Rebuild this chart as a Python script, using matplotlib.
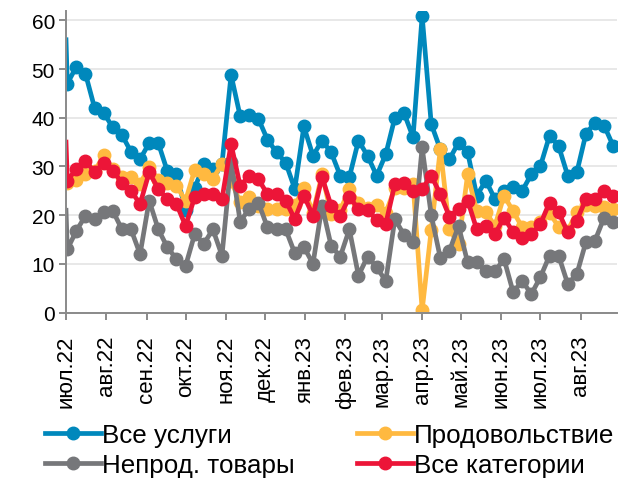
import numpy as np
import pandas as pd
import matplotlib.pyplot as plt
import matplotlib.dates as mdates

plt.rcParams['font.family'] = ['Liberation Sans', 'DejaVu Sans']

# first value sits on the axis start (no marker), then weekly points
dates = [pd.Timestamp('2022-07-01')] + list(pd.date_range('2022-07-02', periods=61, freq='7D'))

services = [56, 47, 50.5, 49, 42, 41, 38, 36.5, 33, 31.5, 34.8, 34.8, 29, 28.4, 21, 25.5,
            30.5, 29.5, 30.5, 48.8, 40.3, 40.5, 39.8, 35.5, 32.9, 30.8, 25.4, 38.2, 32.2,
            35.3, 32.9, 28.1, 27.8, 35.3, 32.2, 28.1, 32.5, 40, 41, 36, 60.9, 38.7, 33.5,
            31.5, 34.9, 32.9, 24, 27.1, 23.3, 25, 25.7, 25, 28.4, 30.1, 36.3, 34.2, 28.1,
            28.8, 36.7, 39, 38.4, 34.2]
food = [26, 26.7, 27.2, 28.5, 29, 32.3, 29.5, 27.8, 27.8, 26.5, 29.8, 27.2, 26.6, 26, 23,
        29.3, 28.5, 27.5, 30.5, 27, 22.7, 23.8, 21.8, 21.3, 21.3, 21.3, 22, 25.5, 20.5,
        28.4, 20.2, 21, 25.4, 22.6, 21.5, 22, 20.5, 25.5, 25.5, 26.5, 0.5, 17, 33.6, 17.1,
        14, 28.4, 20.8, 20.6, 17.8, 24, 20.8, 17.5, 17.5, 18.5, 20.5, 17.6, 16.8, 20.6,
        22, 21.8, 21.6, 21.3]
nonfood = [21, 13, 16.8, 19.9, 19.2, 20.6, 20.9, 17.1, 17.1, 12, 23, 17.1, 13.4, 11, 9.6,
           16.1, 14.1, 17.1, 11.7, 31, 18.7, 21.3, 22.6, 17.5, 17.1, 17.1, 12.2, 13.5, 10,
           21.9, 13.7, 11.5, 17.1, 7.6, 11.5, 9.3, 6.5, 19.2, 16, 14.4, 33.9, 20, 11.2, 12.7,
           17.8, 10.3, 10.3, 8.5, 8.5, 11, 4.2, 6.5, 3.8, 7.3, 11.7, 11.7, 5.9, 7.9, 14.5,
           14.8, 19.5, 18.5]
total = [35, 27.1, 29.5, 31.2, 28.8, 30.8, 29.1, 26.7, 25, 22.3, 28.8, 25.4, 23.3, 22.3,
         17.8, 23.7, 24.3, 24.3, 23.3, 34.6, 26, 28.1, 27.4, 24.3, 24.3, 23, 19.2, 24, 19.9,
         27.8, 21.9, 19.9, 23.7, 21.3, 21, 19, 18.2, 26.4, 26.7, 25, 25.4, 28.1, 24.3, 19.7,
         21.3, 23, 17.1, 17.8, 16.1, 19.5, 16.5, 15.4, 16.1, 18.2, 22.6, 20.6, 16.5, 18.9,
         23.3, 23.3, 25, 24]

month_labels = ['июл.22', 'авг.22', 'сен.22', 'окт.22', 'ноя.22', 'дек.22', 'янв.23',
                'фев.23', 'мар.23', 'апр.23', 'май.23', 'июн.23', 'июл.23', 'авг.23']
month_ticks = pd.date_range('2022-07-01', periods=len(month_labels), freq='MS')

series = [('Все услуги', services, '#0088BC'),
          ('Продовольствие', food, '#FFB940'),
          ('Непрод. товары', nonfood, '#76777A'),
          ('Все категории', total, '#EC1538')]

fig = plt.figure(figsize=(6.31, 4.81), dpi=100)
ax = fig.add_axes([0.1046, 0.348, 0.8734, 0.628])

lines = {}
for name, vals, col in series:
    ln, = ax.plot(dates, vals, color=col, lw=3.4, marker='o', ms=9,
                  markevery=slice(1, None), label=name, solid_joinstyle='round')
    lines[name] = ln

ax.set_ylim(0, 62)
ax.set_yticks(np.arange(0, 61, 10))
ax.set_xlim(pd.Timestamp('2022-07-01'), pd.Timestamp('2023-08-29'))
ax.set_xticks(month_ticks)
ax.set_xticklabels(month_labels, rotation=90)
ax.grid(axis='y', color='#e6e6e6', lw=1.3)
ax.set_axisbelow(True)

for s in ['top', 'right']:
    ax.spines[s].set_visible(False)
for s in ['left', 'bottom']:
    ax.spines[s].set_color('#8a8a8a')
    ax.spines[s].set_linewidth(1.4)
ax.tick_params(axis='both', colors='#8a8a8a', length=5, width=1.4, labelcolor='black')
ax.tick_params(axis='y', labelsize=15, pad=3)
ax.tick_params(axis='x', labelsize=16, pad=11)

# legend fills column by column, so this order gives rows like the original
order = ['Все услуги', 'Непрод. товары', 'Продовольствие', 'Все категории']
fig.legend([lines[n] for n in order], order, ncol=2, loc='upper left',
           bbox_to_anchor=(45 / 631, 1 - 424 / 481), frameon=False, fontsize=18.7,
           numpoints=1, handlelength=2.15, handletextpad=0.05, borderpad=0,
           borderaxespad=0, labelspacing=0.23, columnspacing=2.4)

fig.savefig('out.png', dpi=100)
